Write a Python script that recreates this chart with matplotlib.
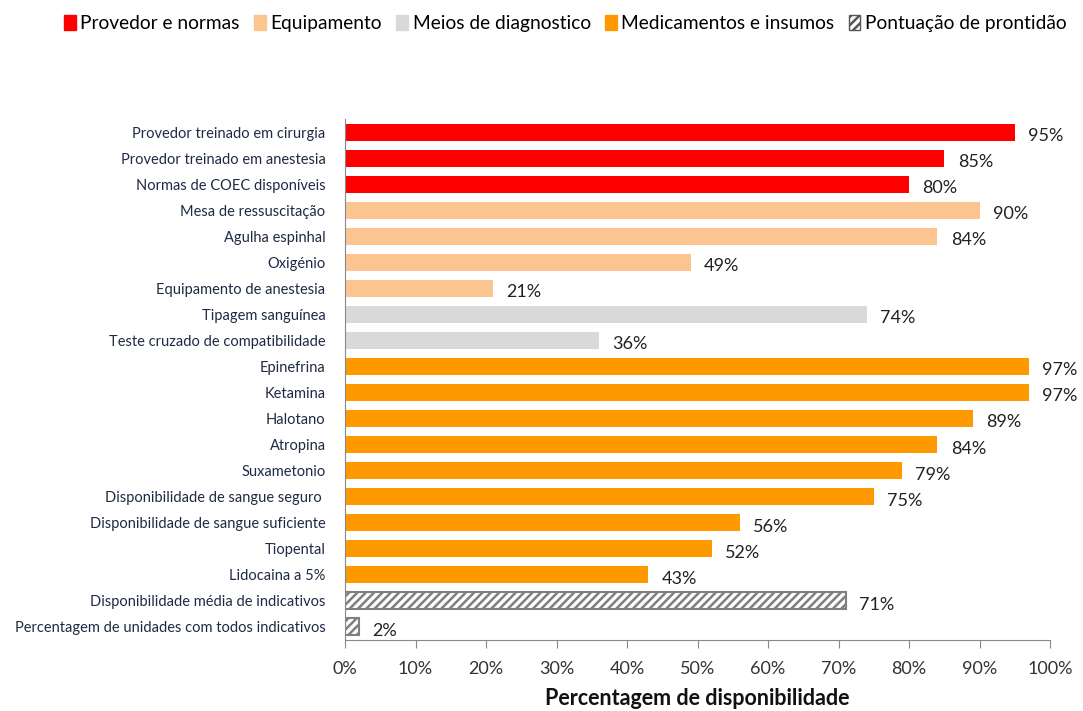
import numpy as np
import matplotlib
matplotlib.use('Agg')
import matplotlib.pyplot as plt
from matplotlib.patches import Patch

plt.rcParams['font.family'] = ['Lato', 'DejaVu Sans']
plt.rcParams['hatch.color'] = '#7f7f7f'
plt.rcParams['hatch.linewidth'] = 1.8

# dados
categorias = [
    'Provedor treinado em cirurgia',
    'Provedor treinado em anestesia',
    'Normas de COEC disponíveis',
    'Mesa de ressuscitação',
    'Agulha espinhal',
    'Oxigénio',
    'Equipamento de anestesia',
    'Tipagem sanguínea',
    'Teste cruzado de compatibilidade',
    'Epinefrina',
    'Ketamina',
    'Halotano',
    'Atropina',
    'Suxametonio',
    'Disponibilidade de sangue seguro ',
    'Disponibilidade de sangue suficiente',
    'Tiopental',
    'Lidocaina a 5%',
    'Disponibilidade média de indicativos',
    'Percentagem de unidades com todos indicativos',
]
valores = [95, 85, 80, 90, 84, 49, 21, 74, 36, 97, 97, 89, 84, 79, 75, 56, 52, 43, 71, 2]
grupos = [0, 0, 0, 1, 1, 1, 1, 2, 2, 3, 3, 3, 3, 3, 3, 3, 3, 3, 4, 4]

grupo_nomes = ['Provedor e normas', 'Equipamento', 'Meios de diagnostico',
               'Medicamentos e insumos', 'Pontuação de prontidão']
grupo_cores = ['#ff0000', '#fcc590', '#d9d9d9', '#ff9900', 'white']

fig = plt.figure(figsize=(10.83, 7.11), dpi=100)
ax = fig.add_axes([0.3186, 0.0999, 0.651, 0.7327])

y = np.arange(len(categorias))
for i, (v, g) in enumerate(zip(valores, grupos)):
    if g == 4:
        ax.barh(i, v, height=0.65, color='white', edgecolor='#7f7f7f',
                hatch='////', linewidth=1.5)
    else:
        ax.barh(i, v, height=0.65, color=grupo_cores[g])
    ax.text(v + 1.9, i + 0.15, f'{v}%', va='center', ha='left',
            fontsize=13, color='#222222')

ax.set_ylim(len(categorias) - 0.5, -0.5)
ax.set_xlim(0, 100)
ax.set_yticks(y)
ax.set_yticklabels(categorias, fontsize=10.5, color='#1f2a44')
ax.tick_params(axis='y', length=0, pad=14)
ax.set_xticks(np.arange(0, 101, 10))
ax.set_xticklabels([f'{t}%' for t in range(0, 101, 10)], fontsize=13, color='#333333')
ax.tick_params(axis='x', direction='out', length=6, color='#888888', pad=9)

for s in ['top', 'right']:
    ax.spines[s].set_visible(False)
for s in ['left', 'bottom']:
    ax.spines[s].set_color('#888888')

ax.set_xlabel('Percentagem de disponibilidade', fontsize=15.5, fontweight='bold',
              color='#111111', labelpad=8)

handles = []
for nome, cor, g in zip(grupo_nomes, grupo_cores, range(5)):
    if g == 4:
        handles.append(Patch(facecolor='white', edgecolor='#555555', hatch='////', label=nome))
    else:
        handles.append(Patch(facecolor=cor, edgecolor=cor, label=nome))
fig.legend(handles=handles, loc='upper left', bbox_to_anchor=(0.045, 1.0), ncol=5,
           frameon=False, fontsize=13.8, handlelength=0.6, handleheight=0.8,
           handletextpad=0.25, columnspacing=0.75, borderpad=0.3)

fig.savefig('out.png', dpi=100)
